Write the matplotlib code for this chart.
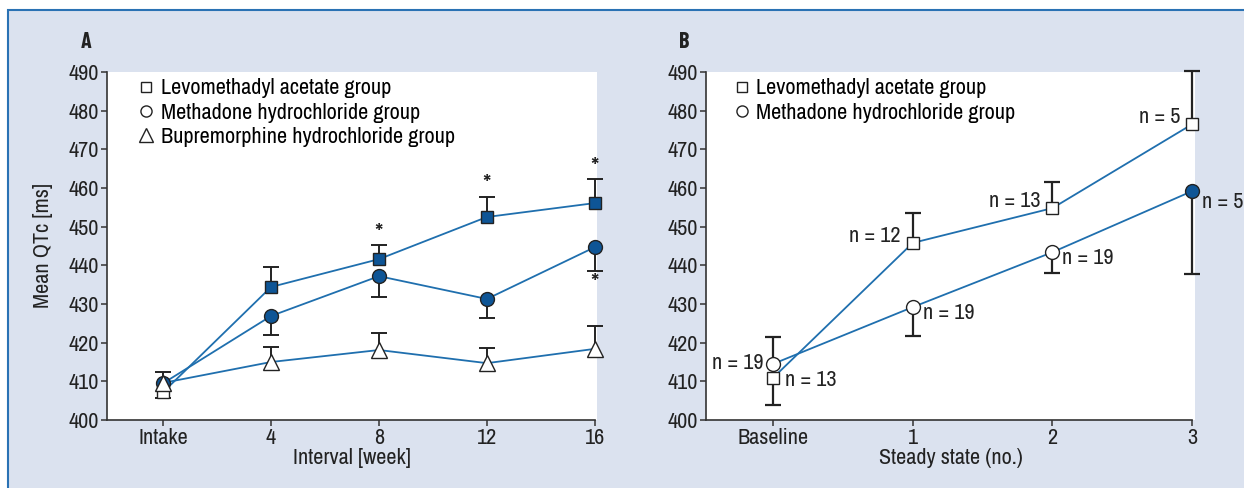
import numpy as np
import matplotlib
matplotlib.use("Agg")
import matplotlib.pyplot as plt
from matplotlib.lines import Line2D
from matplotlib.patches import Rectangle

plt.rcParams['font.family'] = ['Liberation Sans Narrow', 'Archivo Narrow', 'DejaVu Sans']

# ---------------- data ----------------
# Panel A
a_cats = ["Intake", "4", "8", "12", "16"]
a_levo = [407.2, 434.4, 441.6, 452.5, 456.1]
a_levo_lo = [1.5, 0, 0, 0, 0]
a_levo_up = [0, 5.2, 3.6, 5.2, 6.2]
a_levo_filled = [False, True, True, True, True]

a_meth = [409.5, 426.9, 437.2, 431.3, 444.7]
a_meth_lo = [0, 4.9, 5.4, 4.9, 6.2]
a_meth_up = [0, 0, 0, 0, 0]
a_meth_filled = [True, True, True, True, True]

a_bupr = [409.6, 415.0, 418.1, 414.7, 418.4]
a_bupr_lo = [0, 0, 0, 0, 0]
a_bupr_up = [2.8, 3.9, 4.4, 3.9, 5.9]

a_star_x = [2, 3, 4, 4]
a_star_y = [448.3, 460.8, 465.4, 435.4]

# Panel B
b_cats = ["Baseline", "1", "2", "3"]
b_levo = [410.9, 445.8, 454.8, 476.5]
b_levo_lo = [7.0, 0, 0, 0]
b_levo_up = [0, 7.7, 6.7, 13.7]
b_levo_n = ["n = 13", "n = 12", "n = 13", "n = 5"]

b_meth = [414.5, 429.2, 443.4, 459.2]
b_meth_lo = [0, 7.5, 5.4, 21.5]
b_meth_up = [7.0, 0, 0, 0]
b_meth_filled = [False, False, False, True]
b_meth_n = ["n = 19", "n = 19", "n = 19", "n = 5"]

legend_a = ["Levomethadyl acetate group", "Methadone hydrochloride group",
            "Bupremorphine hydrochloride group"]
legend_b = ["Levomethadyl acetate group", "Methadone hydrochloride group"]

# ---------------- style ----------------
BG = "#dbe2ef"
FRAME = "#2a72b4"
LINE = "#1f6fae"
FILL = "#0e5596"
EDGE = "#222222"
ERR = "#222222"
TXT = "#222222"
FS = 16

W, H = 1244, 488
fig = plt.figure(figsize=(W / 100, H / 100), dpi=100, facecolor="white")
fig.patches.append(Rectangle((8 / W, -0.05), 1.1, 1 - 10 / H + 0.05,
                             transform=fig.transFigure, facecolor=BG,
                             edgecolor=FRAME, linewidth=1.5, zorder=-10))


def px_axes(x0, x1, y0, y1):
    return fig.add_axes([x0 / W, 1 - y1 / H, (x1 - x0) / W, (y1 - y0) / H])


def style_axes(ax):
    ax.set_facecolor("white")
    for s in ("top", "right"):
        ax.spines[s].set_visible(False)
    for s in ("left", "bottom"):
        ax.spines[s].set_color("#333333")
        ax.spines[s].set_linewidth(1.2)
    ax.tick_params(axis="both", direction="out", length=4, width=1.1,
                   color="#333333", labelsize=FS, labelcolor=TXT, pad=2)
    ax.set_ylim(400, 490)
    ax.set_yticks(np.arange(400, 491, 10))


def errbars(ax, x, y, lo, up, lw=1.4):
    x = np.asarray(x, float)
    y = np.asarray(y, float)
    lo = np.asarray(lo, float)
    up = np.asarray(up, float)
    m = up > 0
    if m.any():
        ax.vlines(x[m], y[m], y[m] + up[m], color=ERR, lw=lw, zorder=2, clip_on=False)
        ax.plot(x[m], y[m] + up[m], ls="none", marker="_", ms=11, mew=lw,
                color=ERR, zorder=2, clip_on=False)
    m = lo > 0
    if m.any():
        ax.vlines(x[m], y[m] - lo[m], y[m], color=ERR, lw=lw, zorder=2, clip_on=False)
        ax.plot(x[m], y[m] - lo[m], ls="none", marker="_", ms=11, mew=lw,
                color=ERR, zorder=2, clip_on=False)


def markers(ax, x, y, marker, filled, ms, z):
    x = np.asarray(x, float)
    y = np.asarray(y, float)
    f = np.asarray(filled, bool)
    if f.any():
        ax.plot(x[f], y[f], ls="none", marker=marker, ms=ms, mfc=FILL,
                mec=EDGE, mew=1.0, zorder=z, clip_on=False)
    if (~f).any():
        ax.plot(x[~f], y[~f], ls="none", marker=marker, ms=ms, mfc="white",
                mec=EDGE, mew=1.0, zorder=z, clip_on=False)


# ---------------- panel A ----------------
axA = px_axes(107, 597, 72, 420)
style_axes(axA)
xa = np.arange(len(a_cats))
axA.set_xlim(-0.52, 4.02)
axA.set_xticks(xa)
axA.set_xticklabels(a_cats)
axA.spines["bottom"].set_bounds(-0.52, 4)

for yv in (a_levo, a_meth, a_bupr):
    axA.plot(xa, yv, color=LINE, lw=1.3, zorder=1)
errbars(axA, xa, a_levo, a_levo_lo, a_levo_up)
errbars(axA, xa, a_meth, a_meth_lo, a_meth_up)
errbars(axA, xa, a_bupr, a_bupr_lo, a_bupr_up)
markers(axA, xa, a_levo, "s", a_levo_filled, 9, 3)
markers(axA, xa, a_meth, "o", a_meth_filled, 10, 4)
markers(axA, xa, a_bupr, "^", [False] * 5, 12, 5)
for sx, sy in zip(a_star_x, a_star_y):
    axA.text(sx, sy, "*", ha="center", va="center", fontsize=19, color=TXT)

axA.set_xlabel("Interval [week]", fontsize=FS, labelpad=0, color=TXT)
axA.set_ylabel("Mean QTc [ms]", fontsize=FS, labelpad=11, color=TXT)

hA = [Line2D([], [], ls="none", marker="s", ms=7, mfc="white", mec=EDGE, mew=1.0),
      Line2D([], [], ls="none", marker="o", ms=8, mfc="white", mec=EDGE, mew=1.0),
      Line2D([], [], ls="none", marker="^", ms=10, mfc="white", mec=EDGE, mew=1.0)]
axA.legend(hA, legend_a, loc="upper left", bbox_to_anchor=(0.035, 1.02),
           frameon=False, fontsize=FS, handlelength=0.8, handletextpad=0.25,
           labelspacing=0.2, borderaxespad=0.2)

fig.text(86 / W, 1 - 42 / H, "A", fontsize=FS, fontweight="bold",
         family=["Barlow Condensed", "DejaVu Sans"],
         ha="center", va="center", color=TXT)

# ---------------- panel B ----------------
axB = px_axes(706, 1195, 72, 420)
style_axes(axB)
xb = np.arange(len(b_cats))
axB.set_xlim(-0.48, 3.02)
axB.set_xticks(xb)
axB.set_xticklabels(b_cats)
axB.spines["bottom"].set_bounds(-0.48, 3)

axB.plot(xb, b_levo, color=LINE, lw=1.3, zorder=1)
axB.plot(xb, b_meth, color=LINE, lw=1.3, zorder=1)
errbars(axB, xb, b_levo, b_levo_lo, b_levo_up, lw=1.6)
errbars(axB, xb, b_meth, b_meth_lo, b_meth_up, lw=1.6)
markers(axB, xb, b_levo, "s", [False] * 4, 9, 3)
markers(axB, xb, b_meth, "o", b_meth_filled, 10, 4)

# n labels placed with pixel offsets from their markers
for i, (yv, t) in enumerate(zip(b_levo, b_levo_n)):
    if i == 0:
        axB.annotate(t, (xb[i], yv), xytext=(12, -2), textcoords="offset pixels",
                     ha="left", va="center", fontsize=FS, color=TXT)
    else:
        axB.annotate(t, (xb[i], yv), xytext=(-12, 7), textcoords="offset pixels",
                     ha="right", va="center", fontsize=FS, color=TXT)
for i, (yv, t) in enumerate(zip(b_meth, b_meth_n)):
    if i == 0:
        axB.annotate(t, (xb[i], yv), xytext=(-10, 1), textcoords="offset pixels",
                     ha="right", va="center", fontsize=FS, color=TXT)
    else:
        dy = -11 if i == 3 else -6
        axB.annotate(t, (xb[i], yv), xytext=(10, dy), textcoords="offset pixels",
                     ha="left", va="center", fontsize=FS, color=TXT,
                     annotation_clip=False)

axB.set_xlabel("Steady state (no.)", fontsize=FS, labelpad=0, color=TXT)

hB = [Line2D([], [], ls="none", marker="s", ms=7, mfc="white", mec=EDGE, mew=1.0),
      Line2D([], [], ls="none", marker="o", ms=8, mfc="white", mec=EDGE, mew=1.0)]
axB.legend(hB, legend_b, loc="upper left", bbox_to_anchor=(0.028, 1.02),
           frameon=False, fontsize=FS, handlelength=0.8, handletextpad=0.25,
           labelspacing=0.2, borderaxespad=0.2)

fig.text(684 / W, 1 - 42 / H, "B", fontsize=FS, fontweight="bold",
         family=["Barlow Condensed", "DejaVu Sans"],
         ha="center", va="center", color=TXT)

fig.savefig("out.png", dpi=100, facecolor=fig.get_facecolor())
